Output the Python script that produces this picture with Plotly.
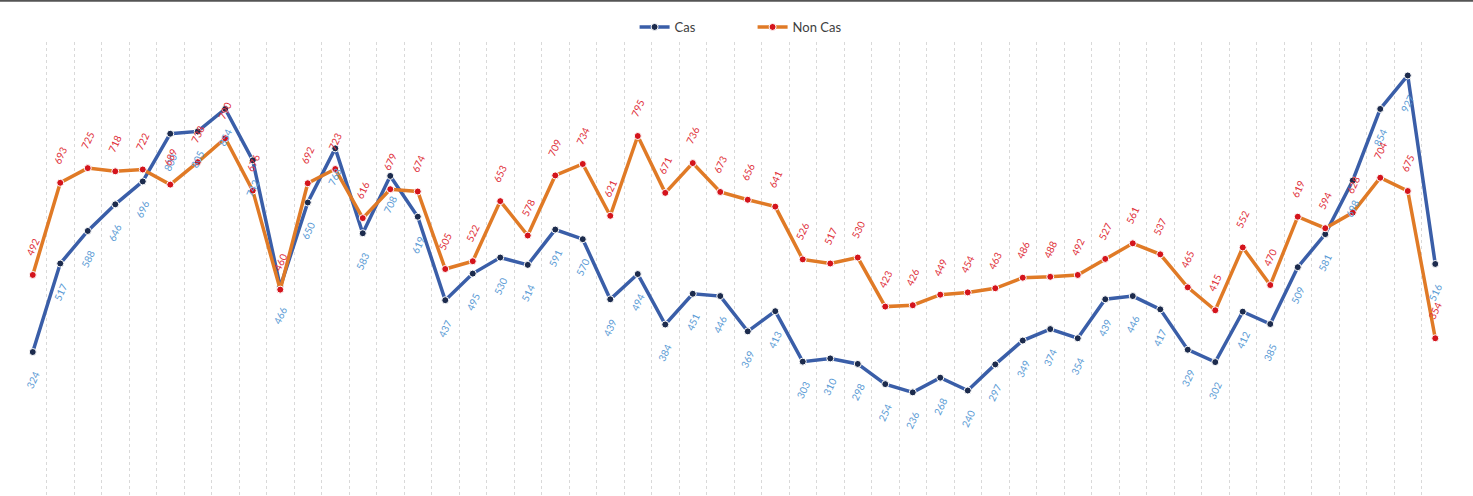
import plotly.graph_objects as go

# %%
# valeurs
periods = list(range(1, 53))
cas = [324, 517, 588, 646, 696, 800, 805, 854, 742, 466,
       650, 768, 583, 708, 619, 437, 495, 530, 514, 591,
       570, 439, 494, 384, 451, 446, 369, 413, 303, 310,
       298, 254, 236, 268, 240, 297, 349, 374, 354, 439,
       446, 417, 329, 302, 412, 385, 509, 581, 698, 854,
       927, 516]
non_cas = [492, 693, 725, 718, 722, 689, 738, 790, 676, 460,
           692, 723, 616, 679, 674, 505, 522, 653, 578, 709,
           734, 621, 795, 671, 736, 673, 656, 641, 526, 517,
           530, 423, 426, 449, 454, 463, 486, 488, 492, 527,
           561, 537, 465, 415, 552, 470, 619, 594, 628, 704,
           675, 354]

# %%
fig = go.Figure()

fig.add_trace(go.Scatter(
    x=periods, y=cas, name="Cas", mode="lines+markers",
    line=dict(color="#3a5ea8", width=3.5),
    marker=dict(color="#1c2b4d", size=7, line=dict(color="white", width=1)),
))
fig.add_trace(go.Scatter(
    x=periods, y=non_cas, name="Non Cas", mode="lines+markers",
    line=dict(color="#e07a26", width=3.5),
    marker=dict(color="#d4141c", size=7, line=dict(color="white", width=1)),
))

annotations = []
for x, v in zip(periods, cas):
    annotations.append(dict(x=x, y=v, text=str(v), showarrow=False, textangle=-65,
                            yshift=-28, font=dict(color="#5b9bd5", size=10)))
for x, v in zip(periods, non_cas):
    annotations.append(dict(x=x, y=v, text=str(v), showarrow=False, textangle=-65,
                            yshift=28, font=dict(color="#e0303a", size=10)))

fig.update_layout(
    width=1473, height=496,
    margin=dict(l=19, r=24, t=42, b=0),
    paper_bgcolor="white", plot_bgcolor="white",
    font=dict(family="Lato, sans-serif", color="#404040"),
    showlegend=True,
    legend=dict(orientation="h", x=0.513, xanchor="center", y=1.0, yanchor="bottom",
                font=dict(size=13, color="#404040"),
                entrywidth=73, entrywidthmode="pixels"),
    annotations=annotations,
    shapes=[dict(type="line", xref="paper", yref="paper", x0=-0.02, x1=1.02,
                 y0=1.091, y1=1.091, line=dict(color="#555555", width=2))],
)
fig.update_xaxes(range=[0.5, 52.5], tick0=0.5, dtick=1, showticklabels=False,
                 showgrid=True, gridcolor="#d9d9d9", griddash="dot", gridwidth=1,
                 zeroline=False, showline=False, ticks="")
fig.update_yaxes(range=[10, 1000], showgrid=False, showticklabels=False,
                 zeroline=False, showline=False)

# la page par défaut a une marge de 8px autour du graphique
fig.write_html("out.html", config={"displayModeBar": False},
               post_script="document.body.style.margin='0';")
